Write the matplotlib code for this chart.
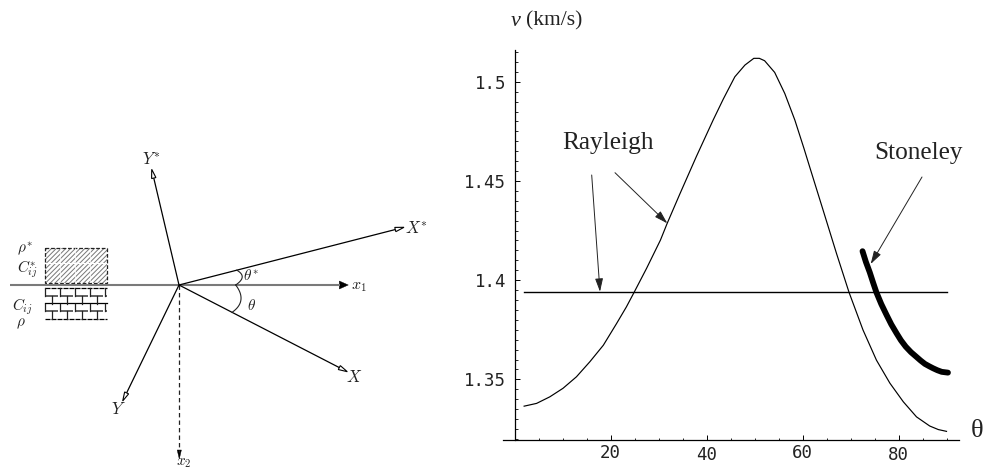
#!/usr/bin/env python3
import matplotlib
matplotlib.use("Agg")
import matplotlib.pyplot as plt
from matplotlib.patches import Rectangle, Polygon
from matplotlib.ticker import FixedLocator, MultipleLocator, FixedFormatter
import numpy as np

# right panel
RAYLEIGH_THETA = [2, 4.6, 7.35, 10.1, 12.9, 15.7, 18.5, 21.25, 23.3, 24.9, 27.5, 30.4, 31.8, 34.4, 37.9,
                  41.4, 43.5, 45.9, 48, 49.85, 51, 52.1, 54.2, 56.3, 58.4, 60.3, 61.5, 64.3, 67.1, 69.7,
                  72.6, 75.4, 78.2, 81, 83.75, 86.5, 88.3, 90]
RAYLEIGH_V = [1.3365, 1.3379, 1.3412, 1.3455, 1.3513, 1.3589, 1.3672, 1.3781, 1.3865, 1.3938, 1.4059, 1.4202,
              1.4286, 1.4432, 1.4624, 1.4808, 1.4913, 1.5025, 1.5084, 1.5118, 1.5118, 1.5106, 1.5047, 1.4941,
              1.4807, 1.4664, 1.4570, 1.4352, 1.4133, 1.3938, 1.3749, 1.3597, 1.3481, 1.3387, 1.3311,
              1.3265, 1.3247, 1.3238]
STONELEY_THETA = [72.5, 73.2, 74, 74.7, 75.4, 76.4, 77.5, 78.5, 79.6, 80.5, 81.5, 82.6, 83.7, 84.6, 85.5,
                  86.4, 87.2, 88.1, 89, 90.3]
STONELEY_V = [1.4146, 1.4092, 1.4040, 1.3988, 1.3938, 1.3880, 1.3825, 1.3777, 1.3732, 1.3697, 1.3665, 1.3637,
              1.3614, 1.3595, 1.3578, 1.3566, 1.3556, 1.3546, 1.3538, 1.3534]
SECOND_THETA = [2, 90]
SECOND_V = [1.3938, 1.3938]
X_TICKS = [20, 40, 60, 80]
Y_TICKS = [1.35, 1.4, 1.45, 1.5]
Y_TICK_LABELS = ["1.35", "1.4", "1.45", "1.5"]

# left sketch, in image pixels
ORIGIN = (179, 285)
OPEN_AXES = [("Xstar", (404, 227.3)), ("X", (347.3, 371.7)), ("Ystar", (151.7, 169.3)), ("Y", (122.7, 401))]
OPEN_LABELS = [(r"$X^{*}$", 416, 229), (r"$X$", 354.5, 377), (r"$Y^{*}$", 151, 160), (r"$Y$", 118, 409)]

W, H = 986, 470
SERIF = ["Liberation Serif", "DejaVu Serif"]
INK = "#222222"


def open_arrow(ax, start, tip, length=9, half=2.2):
    start = np.array(start, float)
    tip = np.array(tip, float)
    u = (tip - start) / np.linalg.norm(tip - start)
    n = np.array([-u[1], u[0]])
    base = tip - u * length
    ax.plot([start[0], base[0]], [start[1], base[1]], color="black", lw=0.9, solid_capstyle="butt")
    ax.add_patch(Polygon([tip, base + n * half, base - n * half], closed=True,
                         fc="white", ec="black", lw=0.8, zorder=3))


def thin_arrow(ax, start, tip):
    ax.annotate("", xy=tip, xytext=start, xycoords="data", textcoords="data",
                arrowprops=dict(arrowstyle="-|>,head_length=0.8,head_width=0.24",
                                color=INK, lw=0.7, shrinkA=0, shrinkB=0))


def draw_sketch(ax):
    ax.plot([10, 340], [285, 285], color="#7a7a7a", lw=1.5, solid_capstyle="butt")
    ax.add_patch(Polygon([(348.3, 285), (339.3, 281), (339.3, 289)], closed=True, fc="black", ec="black", lw=0.3))
    ax.plot([179, 179], [285, 452], color=INK, lw=0.9, ls=(0, (3.5, 2.5)))
    ax.add_patch(Polygon([(179.3, 459), (177.2, 450), (181.4, 450)], closed=True, fc="black", ec="black", lw=0.3))

    for _, tip in OPEN_AXES:
        open_arrow(ax, ORIGIN, tip)
    for text, x, y in OPEN_LABELS:
        ax.text(x, y, text, fontsize=12, ha="center", va="center", math_fontfamily="cm", color=INK)
    ax.text(351, 286, r"$x_1$", fontsize=11.5, va="center", math_fontfamily="cm", color=INK)
    ax.text(184, 463, r"$x_2$", fontsize=11, ha="center", va="center", math_fontfamily="cm", color=INK)
    ax.text(243, 275, r"$\theta^{*}$", fontsize=11, va="center", math_fontfamily="cm", color=INK)
    ax.text(247, 305, r"$\theta$", fontsize=11, va="center", math_fontfamily="cm", color=INK)

    # angle arcs
    for a, b in [(-14.4, 0), (0, 27.3)]:
        t = np.linspace(a, b, 30)
        r = 56.7 + 3 * abs(t / (a if a else b)) + 5.5 * np.sin(np.pi * (t - a) / (b - a))
        ax.plot(179 + r * np.cos(np.radians(t)), 285 + r * np.sin(np.radians(t)), color=INK, lw=0.8)

    # upper half-space swatch
    ax.add_patch(Rectangle((44.5, 247.5), 62, 35, fc="white", ec="#777777", lw=0, hatch="///////"))
    ax.add_patch(Rectangle((44.5, 247.5), 62, 35, fc="none", ec=INK, lw=0.9, ls=(0, (3, 1.5))))
    ax.plot([45, 106], [263, 263], color="white", lw=0.8)
    for xs in (60, 75, 90):
        ax.plot([xs, xs], [248, 282], color="white", lw=0.5)

    # lower half-space swatch, a brick wall
    for y in (288.3, 319.3):
        ax.plot([44.5, 106.5], [y, y], color="black", lw=0.9, ls=(0, (4, 0.8)))
    ax.plot([44.5, 106.5], [303.3, 303.3], color="black", lw=0.9)
    for y in (295.7, 311.3):
        for x in (44.5, 59.5, 74.5, 89.5, 104.5):
            ax.plot([x, min(x + 13.5, 106.5)], [y, y], color="#555555", lw=1.3, solid_capstyle="butt")
            ax.plot([x, x], [y - 7.5, y], color=INK, lw=0.9)
            if x + 7 < 106:
                ax.plot([x + 7, x + 7], [y, y + 7.8], color=INK, lw=0.9)

    for text, x, y in [(r"$\rho^{*}$", 25, 249), (r"$C^{*}_{ij}$", 27, 269),
                       (r"$C_{ij}$", 22, 306.5), (r"$\rho$", 21, 323.5)]:
        ax.text(x, y, text, fontsize=11, ha="center", va="center", math_fontfamily="cm", color=INK)


def draw_curves(ax):
    ax.plot(RAYLEIGH_THETA, RAYLEIGH_V, color="black", lw=0.85)
    ax.plot(SECOND_THETA, SECOND_V, color="black", lw=1.0)
    ax.plot(STONELEY_THETA, STONELEY_V, color="black", lw=4.2, solid_capstyle="round")
    ax.set_xlim(-2.4, 92.6)
    ax.set_ylim(1.3197, 1.516)
    for side in ["top", "right"]:
        ax.spines[side].set_visible(False)
    ax.spines["left"].set_position(("data", 0))
    ax.spines["left"].set_linewidth(0.9)
    ax.spines["bottom"].set_linewidth(0.9)
    ax.xaxis.set_major_locator(FixedLocator(X_TICKS))
    ax.xaxis.set_minor_locator(MultipleLocator(5))
    ax.yaxis.set_major_locator(FixedLocator(Y_TICKS))
    ax.yaxis.set_major_formatter(FixedFormatter(Y_TICK_LABELS))
    ax.yaxis.set_minor_locator(MultipleLocator(0.005))
    ax.tick_params(axis="both", which="major", length=3.5, width=0.7, direction="in",
                   labelsize=12.5, labelfontfamily="DejaVu Sans Mono", labelcolor=INK)
    ax.tick_params(axis="both", which="minor", length=1.8, width=0.6, direction="in")
    ax.tick_params(axis="y", which="major", pad=6)
    # the x labels sit on two slightly different baselines
    for tick, pad in zip(ax.xaxis.get_major_ticks(), [3, 5, 3, 5]):
        tick.set_pad(pad)


def main():
    plt.rcParams["hatch.linewidth"] = 0.7
    plt.rcParams["hatch.color"] = "#777777"
    fig = plt.figure(figsize=(W / 100, H / 100), dpi=100)

    overlay = fig.add_axes([0, 0, 1, 1])
    overlay.set_xlim(0, W)
    overlay.set_ylim(H, 0)
    overlay.axis("off")
    draw_sketch(overlay)

    left = 503 / W
    bottom = 1 - 439.5 / H
    width = (959 - 503) / W
    height = (439.5 - 50) / H
    ax = fig.add_axes([left, bottom, width, height])
    ax.patch.set_alpha(0)
    draw_curves(ax)

    overlay.text(608, 143, "Rayleigh", fontsize=18.3, ha="center", va="center", family=SERIF, color=INK)
    overlay.text(918, 153, "Stoneley", fontsize=18.2, ha="center", va="center", family=SERIF, color=INK)
    overlay.text(516, 21, "v", fontsize=16, style="italic", ha="center", va="center", family=SERIF, color=INK)
    overlay.text(554, 21, "(km/s)", fontsize=15.5, ha="center", va="center", family=SERIF, color=INK)
    overlay.text(977, 431, "\u03b8", fontsize=19, ha="center", va="center", family=SERIF, color=INK)

    thin_arrow(overlay, (591.7, 175), (600, 291.7))
    thin_arrow(overlay, (615, 172.7), (667.3, 223.3))
    thin_arrow(overlay, (922, 177), (870.7, 264))

    fig.savefig("out.png", dpi=100)


if __name__ == "__main__":
    main()
